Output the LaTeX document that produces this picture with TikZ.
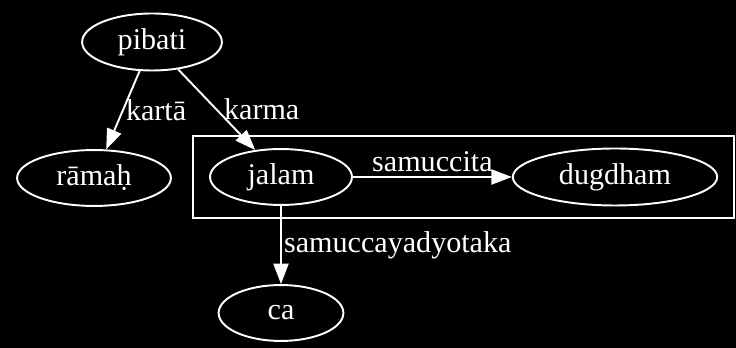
\documentclass[tikz,border=0pt]{standalone}
\usepackage{fontspec}
\setmainfont{Liberation Serif}
\usetikzlibrary{arrows.meta,shapes.geometric,fit}

\tikzset{
  >={Triangle[length=9.5pt,width=7pt]},
  word/.style={ellipse, draw=white, inner sep=0pt, text=white,
    font=\fontsize{14}{16}\selectfont},
  rel/.style={text=white, font=\fontsize{14}{16}\selectfont, inner sep=1pt},
}

\begin{document}
\begin{tikzpicture}[x=0.465pt, y=-0.465pt, line width=0.9pt]
  \fill[black] (0,0) rectangle (736,348);
  \node (pibati)  [word, minimum width=65pt, minimum height=26.5pt] at (152,42) {pibati};
  \node (ramah)   [word, minimum width=71.5pt, minimum height=26pt] at (94,178) {rāmaḥ};
  \node (jalam)   [word, minimum width=66pt, minimum height=26pt] at (281,177) {jalam};
  \node (dugdham) [word, minimum width=95pt, minimum height=26.5pt] at (615,177) {dugdham};
  \node (ca)      [word, minimum width=58pt, minimum height=26pt] at (281,313) {ca};
  % box round the two words joined by samuccita
  \node (group) [draw=white, fit=(jalam) (dugdham), inner xsep=7.5pt, inner ysep=5.5pt] {};
  \path[->, white]
  (pibati) edge node [rel, right] {kartā} (ramah)
           edge node [rel, right, inner sep=3pt] {karma} (jalam)
  (jalam)  edge node [rel, above, inner sep=2pt] {samuccita} (dugdham)
           edge node [rel, right] {samuccayadyotaka} (ca)
  ;
\end{tikzpicture}
\end{document}
